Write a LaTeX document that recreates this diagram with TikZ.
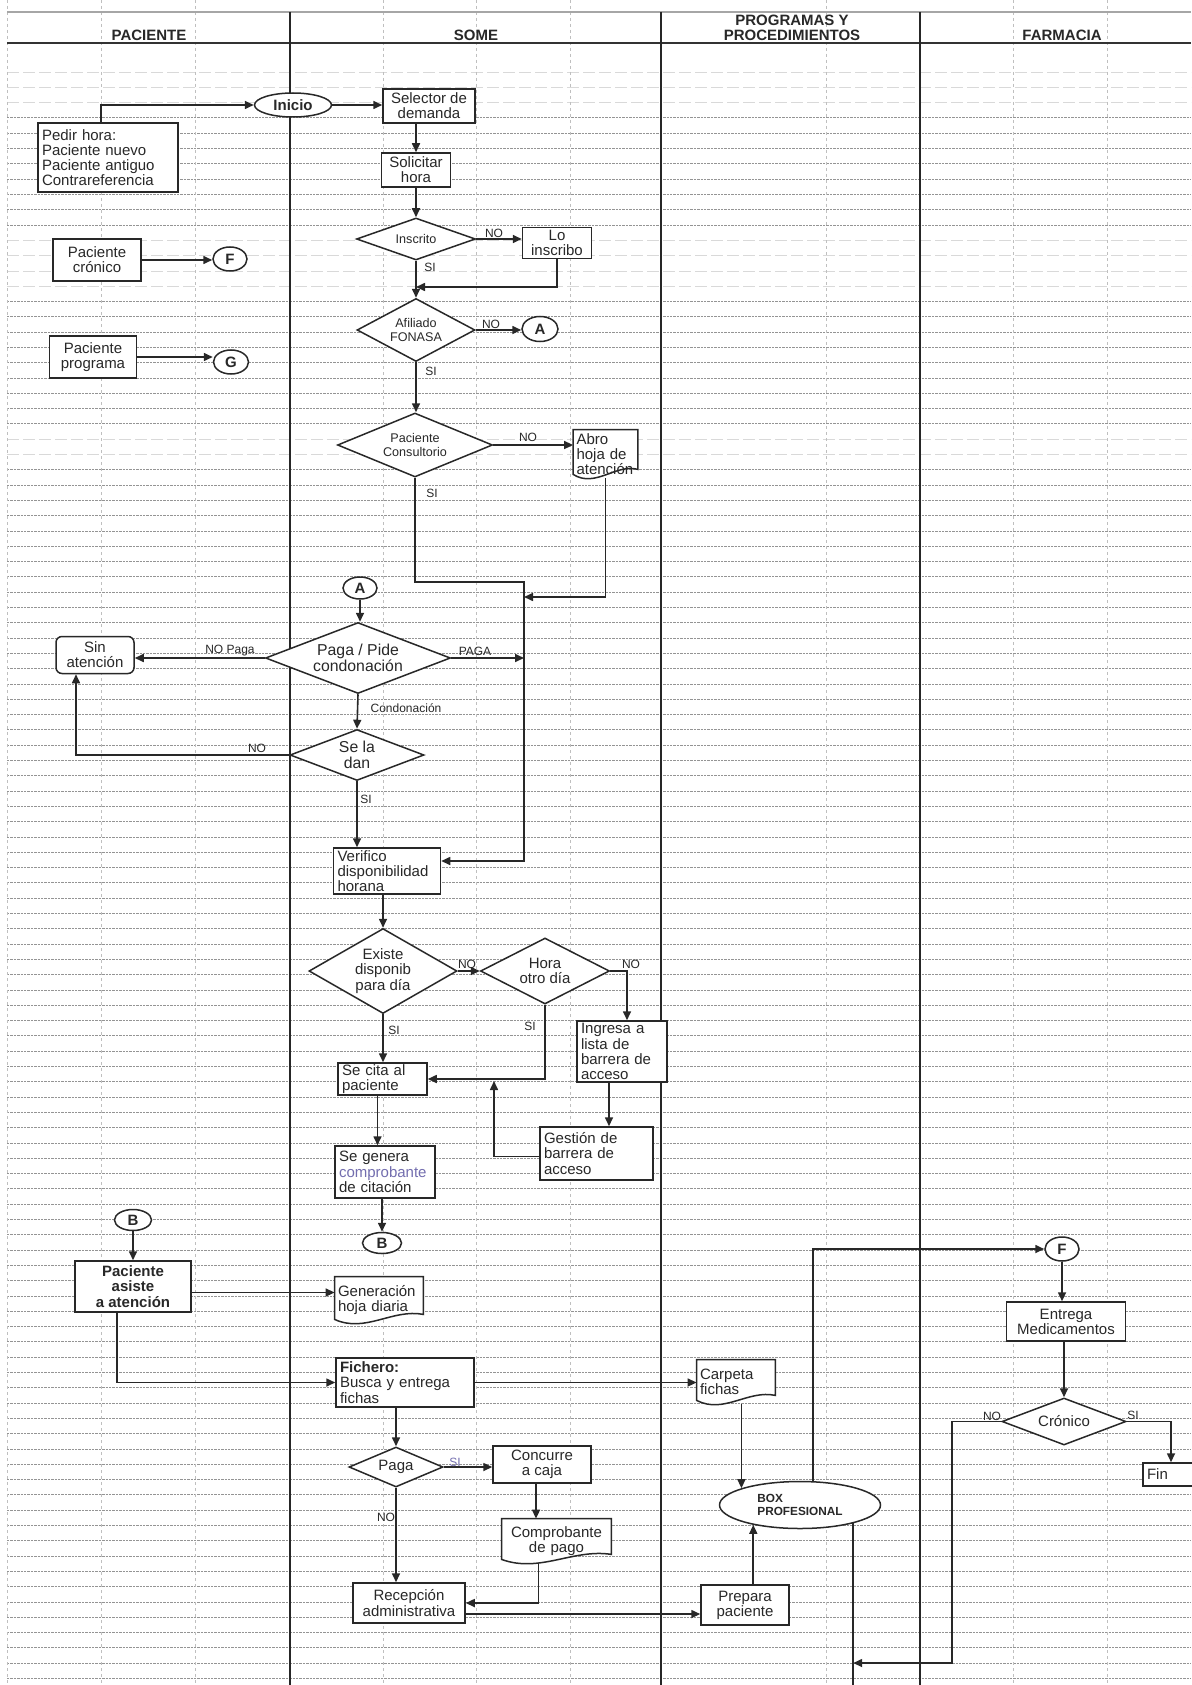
\documentclass[tikz,border=0pt]{standalone}
\usepackage{fontspec}
\setmainfont{Liberation Sans}
\usetikzlibrary{shapes.geometric,arrows.meta,calc}
\pgfdeclarelayer{gridlayer}
\pgfdeclarelayer{doclayer}
\pgfsetlayers{gridlayer,doclayer,main}
\definecolor{inkc}{RGB}{40,40,40}
\definecolor{compcol}{RGB}{115,110,175}
\newcommand\txtmain{\fontsize{7.5pt}{7.6pt}\selectfont}
\newcommand\txtsmall{\fontsize{6.3pt}{6.8pt}\selectfont}
\newcommand\txtlbl{\fontsize{6pt}{6.5pt}\selectfont}
\newcommand\txthead{\fontsize{7.5pt}{7.5pt}\selectfont\bfseries}
\newcommand\txtbig{\fontsize{7.9pt}{7.8pt}\selectfont}
\newcommand\txtbox{\fontsize{5.9pt}{6.7pt}\selectfont\bfseries}
% document symbol: straight top and sides, wavy bottom
\newcommand\docshape[2]{%
  \draw[docline] (#1.north west) -- (#1.north east) -- ($(#1.south east)+(0,-9)$)
    .. controls +(-0.35*#2,-6) and +(0.35*#2,14) .. ($(#1.south west)+(0,-4)$) -- cycle;}
\tikzset{
  lane/.style={line width=1.3pt, draw=black!85},
  gridh/.style={line width=0.45pt, draw=black!42, dash pattern=on 1.2pt off 0.5pt},
  gridhf/.style={line width=0.4pt, draw=gray!30, dash pattern=on 6pt off 2pt},
  gridv/.style={line width=0.4pt, draw=gray!50, dash pattern=on 1.5pt off 1.5pt},
  shp/.style={draw=inkc, line width=0.75pt, fill=white, text=inkc, font=\txtmain, inner sep=0pt},
  box/.style={shp, rectangle, align=center},
  lbox/.style={shp, rectangle, align=left, inner xsep=2pt},
  dia/.style={shp, diamond, align=center},
  term/.style={shp, ellipse, font=\txtmain\bfseries},
  conn/.style={shp, ellipse, font=\txtmain\bfseries},
  doc/.style={rectangle, inner xsep=1.5pt, inner ysep=0pt, text=inkc, font=\txtmain, align=left},
  docline/.style={draw=inkc, line width=0.75pt, fill=white},
  arr/.style={draw=inkc, line width=0.8pt, -{Triangle[length=4.5pt,width=4pt]}},
  ln/.style={draw=inkc, line width=0.8pt},
  lbl/.style={font=\txtlbl, text=inkc, inner sep=0pt},
  head/.style={font=\txthead, text=inkc, align=center, inner sep=0pt},
}
\begin{document}
\begin{tikzpicture}[x=0.5pt,y=-0.5pt]
\useasboundingbox (0,0) rectangle (1191,1685);

% ---------- sheet: rows, columns, lanes, header ----------
\begin{pgfonlayer}{gridlayer}
  \fill[white] (0,0) rectangle (1191,1685);
  \foreach \k in {3,...,10}   \draw[gridh] (7,72+15.3*\k) -- (1191,72+15.3*\k);
  \foreach \k in {15,...,23}  \draw[gridh] (7,72+15.3*\k) -- (1191,72+15.3*\k);
  \foreach \k in {26,...,105} \draw[gridh] (7,72+15.3*\k) -- (1191,72+15.3*\k);
  \foreach \k in {0,1,2,11,12,13,14,24,25} \draw[gridhf] (7,72+15.3*\k) -- (1191,72+15.3*\k);
  \foreach \x in {7,101,195,383,476,570,826,1013,1107} \draw[gridv] (\x,0) -- (\x,1685);
  \draw[line width=0.7pt, draw=gray!70] (7,12) -- (1191,12);
  \draw[line width=1pt, draw=black!80] (7,43) -- (1191,43);
  \foreach \x in {290,661,920} \draw[lane] (\x,12) -- (\x,1685);
\end{pgfonlayer}

% ---------- lane titles ----------
\node[head] (hPac)  at (149,35)   {PACIENTE};
\node[head] (hSome) at (476,35)   {SOME};
\node[head] (hProg) at (792,27.5) {PROGRAMAS Y\\PROCEDIMIENTOS};
\node[head] (hFarm) at (1062,35)  {FARMACIA};

% ---------- PACIENTE / SOME : request and registration ----------
\node[lbox, minimum width=70pt, minimum height=34.5pt, text width=66pt] (pedir) at (108,157.5)
  {Pedir hora:\\Paciente nuevo\\Paciente antiguo\\Contrareferencia};
\node[term, minimum width=38.5pt, minimum height=12pt] (inicio) at (293,105) {Inicio};
\node[box, minimum width=46pt, minimum height=17pt] (selector) at (429,106) {Selector de\\demanda};
\node[box, minimum width=34.5pt, minimum height=17pt] (solicitar) at (416,170) {Solicitar\\hora};
\node[dia, font=\txtsmall, minimum width=59.5pt, minimum height=21pt, shape aspect=2.83] (inscrito) at (416,239) {Inscrito};
\node[box, minimum width=34.5pt, minimum height=15.5pt] (loinscribo) at (557,243) {Lo\\inscribo};
\node[box, minimum width=44pt, minimum height=21pt] (cronico) at (97,260) {Paciente\\crónico};
\node[conn, minimum width=17pt, minimum height=12pt] (F1) at (230,259) {F};
\node[dia, font=\txtsmall, minimum width=59pt, minimum height=31.5pt, shape aspect=1.87] (afiliado) at (416,330) {Afiliado\\FONASA};
\node[conn, minimum width=18pt, minimum height=12.5pt] (A1) at (540,329) {A};
\node[box, minimum width=43.5pt, minimum height=21pt] (programa) at (93,357) {Paciente\\programa};
\node[conn, minimum width=17.5pt, minimum height=12pt] (G) at (231,362) {G};
\node[dia, font=\txtsmall, minimum width=77.5pt, minimum height=32pt, shape aspect=2.42] (consultorio) at (415,445) {Paciente\\Consultorio};
\node[doc, minimum width=32pt, minimum height=24pt, text width=29pt] (abro) at (605.5,454) {Abro\\hoja de\\atención};

% ---------- payment / condonation ----------
\node[conn, minimum width=17pt, minimum height=11pt] (A2) at (360,588) {A};
\node[dia, font=\txtbig, minimum width=92.5pt, minimum height=35.5pt, shape aspect=2.6] (pagapide) at (358,658) {Paga / Pide\\condonación};
\node[box, rounded corners=3pt, minimum width=39pt, minimum height=18.5pt] (sinatencion) at (95,655) {Sin\\atención};
\node[dia, font=\txtbig, minimum width=67pt, minimum height=25.5pt, shape aspect=2.63] (seladan) at (357,755) {Se la\\dan};

% ---------- scheduling ----------
\node[lbox, minimum width=53.5pt, minimum height=23pt, text width=49.5pt] (verifico) at (387,871) {Verifico\\disponibilidad\\horana};
\node[dia, minimum width=74pt, minimum height=42.5pt, shape aspect=1.74] (existe) at (383,971) {Existe\\disponib\\para día};
\node[dia, minimum width=64.5pt, minimum height=33pt, shape aspect=1.95] (hora) at (545,971) {Hora\\otro día};
\node[lbox, minimum width=45pt, minimum height=30.5pt, text width=41pt] (ingresa) at (622,1051.5) {Ingresa a\\lista de\\barrera de\\acceso};
\node[lbox, minimum width=44.5pt, minimum height=16pt, text width=40.5pt] (secita) at (382.5,1079) {Se cita al\\paciente};
\node[lbox, minimum width=56.5pt, minimum height=26.5pt, text width=52.5pt] (gestion) at (596.5,1153.5) {Gestión de\\barrera de\\acceso};
\node[lbox, minimum width=50pt, minimum height=26pt, text width=46pt] (segenera) at (385,1172) {Se genera\\\textcolor{compcol}{comprobante}\\de citación};
\node[conn, minimum width=19.5pt, minimum height=10.5pt] (B2) at (382,1243) {B};

% ---------- attention day ----------
\node[conn, minimum width=18.5pt, minimum height=10.5pt] (B1) at (133,1220) {B};
\node[box, font=\txtmain\bfseries, minimum width=58pt, minimum height=25.5pt] (asiste) at (133,1286.5) {Paciente\\asiste\\a atención};
\node[doc, minimum width=44pt, minimum height=23pt, text width=41pt] (generacion) at (379,1300) {Generación\\hoja diaria};
\node[lbox, minimum width=69pt, minimum height=24.5pt, text width=65pt] (fichero) at (405,1382.5) {\textbf{Fichero:}\\Busca y entrega\\fichas};
\node[doc, minimum width=39pt, minimum height=22pt, text width=36pt] (carpeta) at (736,1382) {Carpeta\\fichas};
\node[dia, minimum width=47pt, minimum height=20pt, shape aspect=2.35] (paga) at (396,1467) {Paga};
\node[box, minimum width=49pt, minimum height=18.5pt] (concurre) at (542,1464.5) {Concurre\\a caja};
\node[doc, align=center, minimum width=54.5pt, minimum height=22pt, text width=51.5pt] (comprobante) at (556.5,1541) {Comprobante\\de pago};
\node[box, minimum width=56pt, minimum height=20pt] (recepcion) at (409,1603) {Recepción\\administrativa};
\node[box, minimum width=44pt, minimum height=20pt] (prepara) at (745,1605) {Prepara\\paciente};
\node[term, font=\txtbox, align=left, minimum width=80.5pt, minimum height=23.5pt] (boxprof) at (800,1505) {BOX\\PROFESIONAL};

% ---------- FARMACIA ----------
\node[conn, minimum width=17pt, minimum height=12pt] (F2) at (1062,1249) {F};
\node[box, minimum width=59.5pt, minimum height=19.5pt] (entrega) at (1066,1321.5) {Entrega\\Medicamentos};
\node[dia, minimum width=62pt, minimum height=23.5pt, shape aspect=2.64] (cronico2) at (1064,1421.5) {Crónico};
\node[lbox, minimum width=28pt, minimum height=11.5pt, text width=24pt] (fin) at (1171,1474.5) {Fin};

% ---------- document outlines beneath their texts ----------
\begin{pgfonlayer}{doclayer}
  \docshape{abro}{64}
  \docshape{generacion}{88}
  \docshape{carpeta}{78}
  \docshape{comprobante}{109}
\end{pgfonlayer}

% ---------- junction points ----------
\coordinate (jA) at (416,287);
\coordinate (jB) at (524,582);
\coordinate (jC) at (524,597);
\coordinate (jD) at (494,1081);
\coordinate (jE) at (852,1695);
\coordinate (jF) at (952,1663);

% ---------- connectors ----------
\draw[arr] ([xshift=-3.5pt]pedir.north) |- (inicio.west);
\draw[arr] (inicio.east) -- (inicio.east -| selector.west);
\draw[arr] (solicitar.north |- selector.south) -- (solicitar.north);
\draw[arr] (solicitar.south) -- (inscrito.north);
\draw[arr] (inscrito.east) -- (inscrito.east -| loinscribo.west);
\draw[arr] (loinscribo.south) |- (jA);
\draw[arr] (inscrito.south) -- (afiliado.north);
\draw[arr] (afiliado.east) -- (afiliado.east -| A1.west);
\draw[arr] (afiliado.south) -- (afiliado.south |- consultorio.north);
\draw[arr] (consultorio.east) -- (consultorio.east -| abro.west);
\draw[arr] (consultorio.south) |- (jB) |- ([yshift=5pt]verifico.east);
\draw[arr] (abro.south) |- (jC);
\draw[arr] (cronico.east) -- (cronico.east -| F1.west);
\draw[arr] (programa.east) -- (programa.east -| G.west);

\draw[arr] (A2.south) -- (A2.south |- pagapide.north);
\draw[arr] (pagapide.west) -- (pagapide.west -| sinatencion.east);
\draw[arr] (pagapide.east) -- (pagapide.east -| jB);
\draw[arr] (pagapide.south) -- (seladan.north);
\draw[arr] (seladan.west) -| ([xshift=-9.5pt]sinatencion.south);
\draw[arr] (seladan.south) -- (seladan.south |- verifico.north);

\draw[arr] (existe.north |- verifico.south) -- (existe.north);
\draw[arr] (existe.east) -- (hora.west);
\draw[arr] (hora.east) -| ([xshift=2.5pt]ingresa.north);
\draw[arr] (existe.south) -- (existe.south |- secita.north);
\draw[arr] (hora.south) |- (secita.east);
\draw[arr] ([xshift=-6.5pt]ingresa.south) -- ([xshift=-6.5pt]ingresa.south |- gestion.north);
\draw[arr] ([yshift=-1.5pt]gestion.west) -| (jD);
\draw[arr] ([xshift=-2.5pt]secita.south) -- ([xshift=-2.5pt]secita.south |- segenera.north);
\draw[arr] (B2.north |- segenera.south) -- (B2.north);

\draw[arr] (B1.south) -- (asiste.north);
\draw[arr] ([yshift=-3pt]asiste.east) -- ([yshift=-3pt]asiste.east -| generacion.west);
\draw[arr] ([xshift=-8pt]asiste.south) |- (fichero.west);
\draw[arr] (fichero.east) -- (fichero.east -| carpeta.west);
\draw[arr] (paga.north |- fichero.south) -- (paga.north);
\draw[arr] (paga.east) -- (paga.east -| concurre.west);
\draw[arr] (paga.south) -- (paga.south |- recepcion.north);
\draw[arr] ([xshift=-3pt]concurre.south) -- ([xshift=-3pt]concurre.south |- comprobante.north);
\draw[arr] ([xshift=-9pt]comprobante.south) |- (recepcion.east);
\draw[arr] ([yshift=-5.5pt]recepcion.east) -- ([yshift=-5.5pt]recepcion.east -| prepara.west);
\draw[arr] (boxprof.203 |- prepara.north) -- (boxprof.203);
\draw[arr] (boxprof.164 |- carpeta.south) -- (boxprof.164);
\draw[arr] (boxprof.61) |- (F2.west);
\draw[ln]  (boxprof.341) -- (boxprof.341 |- jE);

\draw[arr] (F2.south) -- (F2.south |- entrega.north);
\draw[arr] (entrega.south -| cronico2.north) -- (cronico2.north);
\draw[arr] (cronico2.east) -| (fin.north);
\draw[arr] (cronico2.west) -| (jF) -- (jF -| boxprof.341);

% ---------- branch labels ----------
\node[lbl] (nInscr) at (494,233)  {NO};
\node[lbl] (sInscr) at (430,267)  {SI};
\node[lbl] (nAfil)  at (491,324)  {NO};
\node[lbl] (sAfil)  at (431,371)  {SI};
\node[lbl] (nCons)  at (528,437)  {NO};
\node[lbl] (sCons)  at (432,493)  {SI};
\node[lbl] (nPaga)  at (230,651)  {NO Paga};
\node[lbl] (pPaga)  at (475,651)  {PAGA};
\node[lbl] (cond)   at (406,708)  {Condonación};
\node[lbl] (nSela)  at (257,748)  {NO};
\node[lbl] (sSela)  at (366,799)  {SI};
\node[lbl] (nExis)  at (467,964)  {NO};
\node[lbl] (nHora)  at (631,964)  {NO};
\node[lbl] (sExis)  at (394,1030) {SI};
\node[lbl] (sHora)  at (530,1026) {SI};
\node[lbl, text=compcol] (sPaga) at (455,1462) {SI};
\node[lbl] (nPaga2) at (386,1517) {NO};
\node[lbl] (nCron)  at (992,1416) {NO};
\node[lbl] (sCron)  at (1133,1415) {SI};
\end{tikzpicture}
\end{document}
